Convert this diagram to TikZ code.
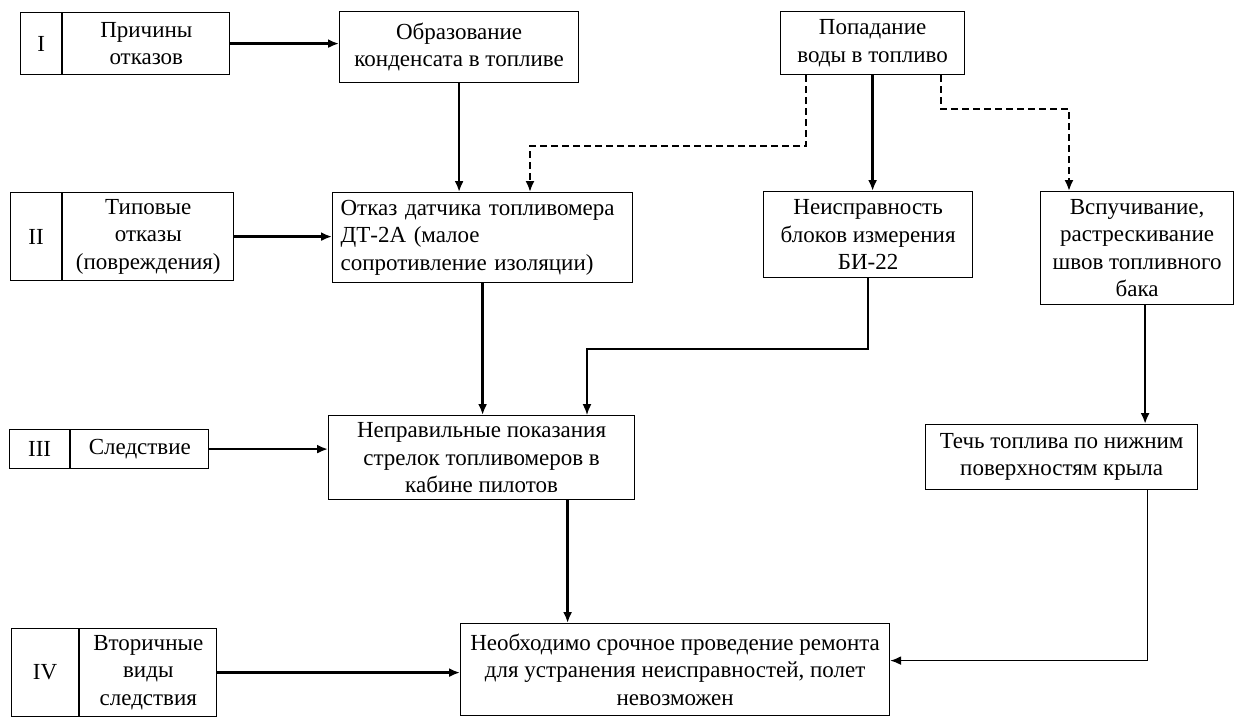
\documentclass[tikz,border=0pt]{standalone}
\usepackage{fontspec}
\setmainfont{Liberation Serif}
\usetikzlibrary{arrows.meta}
\tikzset{
  box/.style={draw,line width=1.2pt,inner sep=0pt,align=center,anchor=north west},
  link/.style={->,line width=2.6pt},
  thinlink/.style={->,line width=1.6pt},
  dashlink/.style={->,line width=2pt,dash pattern=on 7pt off 4pt}
}
\begin{document}
\begin{tikzpicture}[x=1pt,y=-1pt,>={Latex[length=11pt,width=9pt]},font=\fontsize{23}{27.5}\selectfont]
\useasboundingbox (0,0) rectangle (1240,717);
\foreach \i/\num/\x/\y/\a/\b/\h/\txt in {
  1/I/20/12/41/167/62/{Причины\\отказов},
  2/II/10/192/51/171/88/{Типовые\\отказы\\(повреждения)},
  3/III/9/429/60/138/39/{Следствие},
  4/IV/11/628/67/137/88/{Вторичные\\виды\\следствия}}
{
  \node[box,minimum width=\a pt,minimum height=\h pt] (n\i) at (\x,\y) {\num};
  \node[box,minimum width=\b pt,minimum height=\h pt] (c\i) at (n\i.north east) {\txt};
}
\node[box,minimum width=239pt,minimum height=71pt] (obr) at (339,11) {Образование\\конденсата в топливе};
\node[box,minimum width=184pt,minimum height=63pt] (pop) at (780,11) {Попадание\\воды в топливо};
\node[box,minimum width=300pt,minimum height=90pt,text width=284pt,align=left] (otk) at (332,192) {Отказ датчика топливомера\\ДТ-2А (малое\\сопротивление изоляции)};
\node[box,minimum width=209pt,minimum height=86pt] (neis) at (763,191) {Неисправность\\блоков измерения\\БИ-22};
\node[box,minimum width=193pt,minimum height=113pt] (vsp) at (1040,191) {Вспучивание,\\растрескивание\\швов топливного\\бака};
\node[box,minimum width=306pt,minimum height=84pt] (nep) at (328,415) {Неправильные показания\\стрелок топливомеров в\\кабине пилотов};
\node[box,minimum width=272pt,minimum height=65pt] (tech) at (925,424) {Течь топлива по нижним\\поверхностям крыла};
\node[box,minimum width=429pt,minimum height=92pt] (neo) at (460,623) {Необходимо срочное проведение ремонта\\для устранения неисправностей, полет\\невозможен};
\coordinate (v1) at ([xshift=8pt]vsp.south);
\coordinate (p1) at ([xshift=86pt]nep.south);
\draw[link] (c1.east) -- (c1.east -| obr.west);
\draw[link] (c2.east) -- (c2.east -| otk.west);
\draw[link] (c3.east) -- (c3.east -| nep.west);
\draw[link] (c4.east) -- (c4.east -| neo.west);
\draw[link] (obr.south) -- (obr.south |- otk.north);
\draw[link] (pop.south) -- (pop.south |- neis.north);
\draw[dashlink] ([xshift=26pt]pop.south west) -- ++(0,71) -| ([xshift=198pt]otk.north west);
\draw[dashlink] ([xshift=-24pt]pop.south east) -- ++(0,34) -| ([xshift=29pt]vsp.north west);
\draw[link] (otk.south) -- (otk.south |- nep.north);
\draw[thinlink] (neis.south) -- ++(0,71) -| ([xshift=259pt]nep.north west);
\draw[link] (v1) -- (v1 |- tech.north);
\draw[link] (p1) -- (p1 |- neo.north);
\draw[thinlink] ([xshift=86pt]tech.south) |- ([yshift=9pt]neo.east);
\end{tikzpicture}
\end{document}
